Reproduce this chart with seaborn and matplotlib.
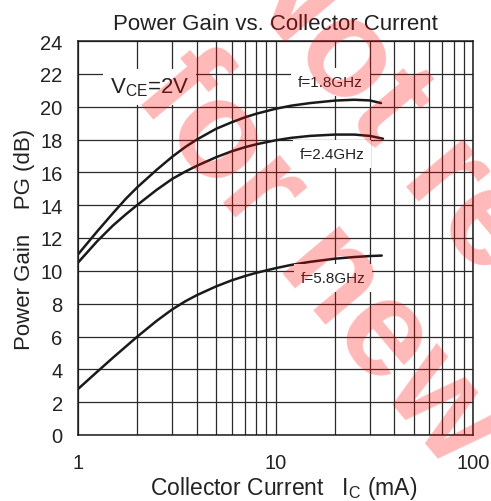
import matplotlib
matplotlib.use("Agg")
import matplotlib.pyplot as plt
from matplotlib.ticker import FixedLocator, NullFormatter
import seaborn as sns
import pandas as pd


# values
current_18 = [1.0, 1.25, 1.5, 1.75, 2.0, 2.5, 3.0, 3.5, 4.0, 5.0, 6.0, 7.0, 8.0, 10.0,
              12.0, 15.0, 20.0, 25.0, 30.0, 34.2]
gain_18 = [11.0, 12.4, 13.5, 14.4, 15.1, 16.15, 16.95, 17.55, 18.0, 18.65, 19.05, 19.35,
           19.57, 19.87, 20.06, 20.22, 20.37, 20.42, 20.38, 20.22]

current_24 = [1.0, 1.25, 1.5, 1.75, 2.0, 2.5, 3.0, 3.5, 4.0, 5.0, 6.0, 7.0, 8.0, 10.0,
              12.0, 15.0, 20.0, 25.0, 30.0, 35.0]
gain_24 = [10.5, 11.8, 12.75, 13.45, 14.02, 14.93, 15.6, 16.05, 16.4, 16.92, 17.28, 17.53,
           17.71, 17.95, 18.1, 18.22, 18.3, 18.3, 18.22, 18.05]

current_58 = [1.0, 1.25, 1.5, 2.0, 2.5, 3.0, 3.5, 4.0, 5.0, 6.0, 7.0, 8.0, 10.0, 12.0,
              15.0, 20.0, 25.0, 30.0, 34.5]
gain_58 = [2.8, 3.85, 4.7, 6.0, 6.95, 7.65, 8.15, 8.52, 9.05, 9.42, 9.68, 9.88, 10.16,
           10.36, 10.55, 10.74, 10.84, 10.9, 10.93]

series_labels = ["f=1.8GHz", "f=2.4GHz", "f=5.8GHz"]
label_pos = [(19.0, 21.5), (19.3, 17.1), (19.5, 9.55)]
y_ticks = list(range(0, 25, 2))
x_ticks = [1, 10, 100]
x_tick_labels = ["1", "10", "100"]


frames = []
for name, cur, gain in zip(series_labels, [current_18, current_24, current_58],
                           [gain_18, gain_24, gain_58]):
    frames.append(pd.DataFrame({"current": cur, "gain": gain, "freq": name}))
df = pd.concat(frames)

sns.set_style("white")
plt.rcParams["font.family"] = ["Liberation Sans", "DejaVu Sans"]
plt.rcParams["mathtext.fontset"] = "custom"
plt.rcParams["mathtext.rm"] = "Liberation Sans"

fig = plt.figure(figsize=(4.91, 5.02), dpi=100)
ax = fig.add_axes([78 / 491, 66 / 502, 395 / 491, 394 / 502])

sns.lineplot(data=df, x="current", y="gain", hue="freq", palette=["#1a1a1a"] * 3,
             linewidth=1.8, legend=False, sort=True, ax=ax, zorder=3)

ax.set_xscale("log")
ax.set_xlim(1, 100)
ax.set_ylim(0, 24)

# grid: decades plus 2..9 subdivisions
minor_x = [m * d for d in (1, 10) for m in range(2, 10)]
ax.xaxis.set_major_locator(FixedLocator(x_ticks))
ax.xaxis.set_minor_locator(FixedLocator(minor_x))
ax.xaxis.set_minor_formatter(NullFormatter())
ax.set_xticklabels(x_tick_labels)
ax.set_yticks(y_ticks)
ax.grid(True, which="both", color="#2a2a2a", linewidth=0.9)
ax.tick_params(which="both", length=0, labelsize=14.5, colors="#222222")
ax.tick_params(axis="y", pad=11)
ax.tick_params(axis="x", pad=13)
for s in ax.spines.values():
    s.set_visible(True)
    s.set_color("#1a1a1a")
    s.set_linewidth(1.1)

for text, (x, y) in zip(series_labels, label_pos):
    ax.text(x, y, text, fontsize=11, ha="center", va="center", color="#222222", zorder=4,
            bbox=dict(boxstyle="square,pad=0.45", fc="white", ec="none"))
ax.text(2.3, 21.2, "V$_\\mathregular{CE}$=2V", fontsize=16, ha="center", va="center",
        color="#222222", zorder=4,
        bbox=dict(boxstyle="square,pad=0.3", fc="white", ec="none"))

ax.set_title("Power Gain vs. Collector Current", fontsize=16, color="#222222", pad=9)
ax.set_xlabel("Collector Current   I$_\\mathregular{C}$ (mA)", fontsize=16.5, color="#222222")
ax.set_ylabel("Power Gain    PG (dB)", fontsize=16, color="#222222")
ax.xaxis.set_label_coords(0.52, -0.1)
ax.yaxis.set_label_coords(-0.11, 0.5)

# watermark
wm = dict(fontsize=100, fontweight="bold", color="red", alpha=0.28, rotation=-50,
          rotation_mode="anchor", ha="left", va="baseline", zorder=10)
fig.text(226 / 491, 1 - (-28) / 502, "Not recommended", **wm)
fig.text(132 / 491, 1 - 95 / 502, "for new design", **wm)

fig.savefig("out.png", dpi=100)
